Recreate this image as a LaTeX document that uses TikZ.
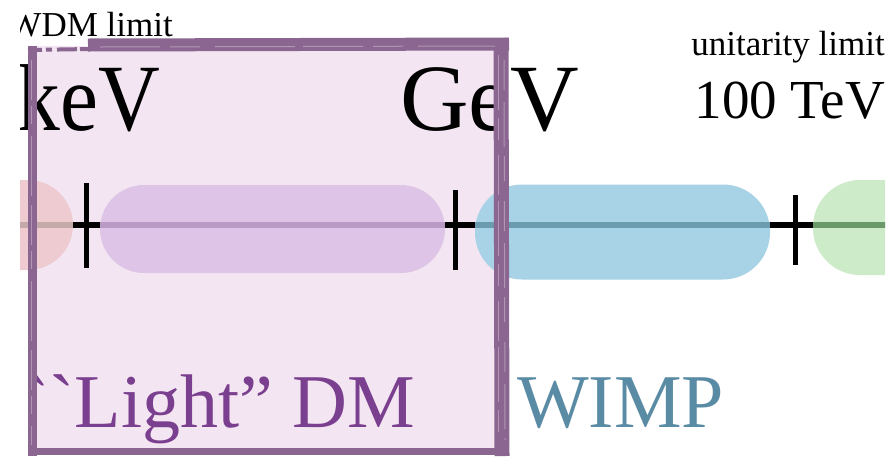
\documentclass[tikz,border=0pt]{standalone}
\usepackage{fontspec}
\setmainfont{Liberation Serif}[Ligatures=TeXOff]
\definecolor{boxfill}{HTML}{F3E6F2}
\definecolor{boxline}{HTML}{8A6690}
\definecolor{streak}{HTML}{B196B3}
\definecolor{redfill}{HTML}{EECBD0}
\definecolor{redline}{HTML}{C5AAAA}
\definecolor{purfill}{HTML}{DEC5E7}
\definecolor{purline}{HTML}{B89AC4}
\definecolor{bluefill}{HTML}{A8D2E6}
\definecolor{blueline}{HTML}{6B9BAE}
\definecolor{grnfill}{HTML}{CDEBC8}
\definecolor{grnline}{HTML}{6B9A6A}
\definecolor{lighttxt}{HTML}{7B3F8F}
\definecolor{wimptxt}{HTML}{5A8BA4}
\begin{document}
\begin{tikzpicture}[x=1pt,y=-1pt,
  pill/.style={draw=none, rectangle, rounded corners=#1, inner sep=0pt},
  axisline/.style={line width=6pt},
  tickmark/.style={line width=5pt},
  bigtxt/.style={inner sep=0pt, font=\fontsize{95}{95}\selectfont},
  midtxt/.style={inner sep=0pt, font=\fontsize{55}{55}\selectfont},
  smalltxt/.style={inner sep=0pt, font=\fontsize{35}{35}\selectfont},
  labeltxt/.style={inner sep=0pt, font=\fontsize{76}{76}\selectfont},
  border/.style={boxline, line cap=butt},
  streakline/.style={streak, line width=1pt}]
\useasboundingbox (0,0) rectangle (891,456);
\begin{scope}
\clip (20,0) rectangle (885,456);
% box fill
\fill[boxfill] (32,46) rectangle (502,451);
% axis
\coordinate (axL) at (20,225);
\coordinate (axR) at (885,225);
\draw[axisline] (axL) -- (axR);
% pills
\node[pill=45pt, fill=redfill, minimum width=173pt, minimum height=90pt] (hot) at (-13.5,225) {};
\node[pill=44pt, fill=purfill, minimum width=345pt, minimum height=88pt] (light) at (272.5,229) {};
\node[pill=47pt, fill=bluefill, minimum width=295pt, minimum height=95pt] (wimp) at (622.5,232) {};
\node[pill=47pt, fill=grnfill, minimum width=200pt, minimum height=95pt] (heavy) at (913,227.5) {};
\draw[axisline, redline] (hot.west |- axL) -- (hot.east |- axL);
\draw[axisline, purline] (light.west |- axL) -- (light.east |- axL);
\draw[axisline, blueline] (wimp.west |- axL) -- (wimp.east |- axL);
\draw[axisline, grnline] (heavy.west |- axL) -- (heavy.east |- axL);
% ticks
\coordinate (t1a) at (86,183); \coordinate (t1b) at (86,268);
\coordinate (t2a) at (455,190); \coordinate (t2b) at (455,270);
\coordinate (t3a) at (795,195); \coordinate (t3b) at (795,265);
\draw[tickmark] (t1a) -- (t1b);
\draw[tickmark] (t2a) -- (t2b);
\draw[tickmark] (t3a) -- (t3b);
% texts
\node[smalltxt, anchor=base east] (wdm) at (173,36) {WDM limit};
\node[bigtxt, anchor=base east] (kev) at (160,130) {\scalebox{0.9}[1]{keV}};
\node[bigtxt, anchor=base west] (gev) at (400,130) {GeV};
\node[smalltxt, anchor=base east] (unit) at (885,55) {unitarity limit};
\node[midtxt, anchor=base east] (tev) at (885,118) {100 TeV};
\node[labeltxt, text=lighttxt, anchor=base east] (lightlbl) at (415,427) {``Light” DM};
\node[labeltxt, text=wimptxt, anchor=base west] (wimplbl) at (517,427) {WIMP};
% sketchy border
\draw[border, line width=13pt] (88,45) -- (509,44);
\draw[border, line width=4pt, dash pattern=on 14pt off 4pt on 6pt off 5pt on 20pt off 3pt] (28,50) -- (90,49);
\draw[border, line width=9pt] (32,46) -- (32,456);
\draw[border, line width=15pt] (501,38) -- (502,456);
\draw[border, line width=7pt] (28,451) -- (500,451);
\draw[streakline, dash pattern=on 40pt off 6pt on 18pt off 12pt on 60pt off 9pt] (31,60) -- (31,445);
\draw[streakline, dash pattern=on 55pt off 8pt on 22pt off 15pt on 40pt off 6pt] (498,55) -- (498,445);
\draw[streakline, dash pattern=on 30pt off 12pt on 45pt off 9pt on 25pt off 20pt] (504,60) -- (505,440);
\draw[streakline, dash pattern=on 60pt off 10pt on 30pt off 15pt on 80pt off 8pt] (100,47) -- (495,46);
\end{scope}
\end{tikzpicture}
\end{document}
